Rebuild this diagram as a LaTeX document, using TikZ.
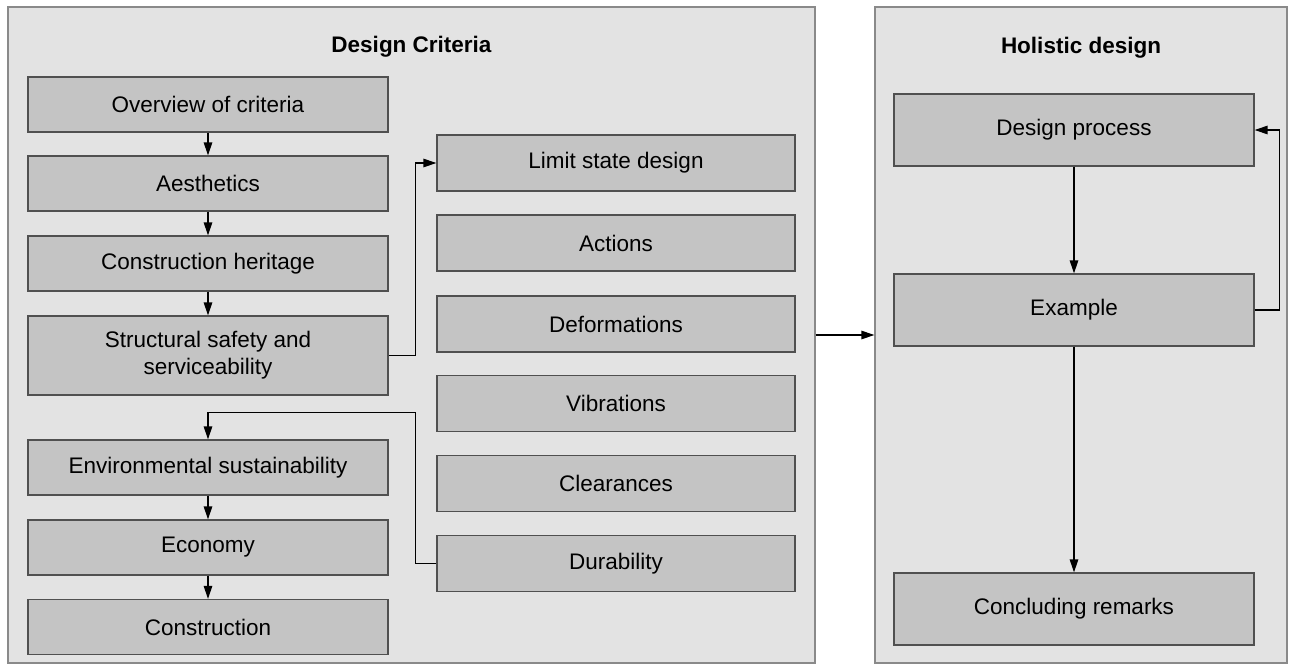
\documentclass[tikz,border=0pt]{standalone}
\usepackage{fontspec}
\setmainfont{Liberation Sans}
\usetikzlibrary{arrows.meta}
\definecolor{panelfill}{HTML}{E3E3E3}
\definecolor{panelline}{HTML}{8A8A8A}
\definecolor{boxfill}{HTML}{C4C4C4}
\definecolor{boxline}{HTML}{505050}
\begin{document}
\begin{tikzpicture}[x=1pt,y=-1pt,
  panel/.style={draw=panelline,fill=panelfill,line width=1.3pt,inner sep=0pt},
  topic/.style={draw=boxline,fill=boxfill,line width=1.3pt,inner sep=2pt,
    align=center,font=\fontsize{22.5}{27}\selectfont},
  leftbox/.style={topic,minimum width=360pt,minimum height=55pt},
  midbox/.style={topic,minimum width=358pt,minimum height=56pt},
  rightbox/.style={topic,minimum width=360pt,minimum height=72pt},
  heading/.style={font=\fontsize{22.5}{27}\selectfont\bfseries},
  arr/.style={draw=black,line width=1.4pt,-{Triangle[length=13pt,width=8.5pt]}}]
\useasboundingbox (0,0) rectangle (1292,665);

% panels
\node[panel,minimum width=807pt,minimum height=656pt] (critpanel) at (411.5,335) {};
\node[panel,minimum width=412pt,minimum height=656pt] (holpanel) at (1081,335) {};
\node[heading] (crittitle) at (411.5,47) {Design Criteria};
\node[heading] (holtitle) at (1081,48) {Holistic design};

% left column
\node[leftbox] (overview) at (208,104.5) {Overview of criteria};
\node[leftbox] (aesth) at (208,183.5) {Aesthetics};
\node[leftbox] (heritage) at (208,263.5) {Construction heritage};
\node[leftbox,minimum height=79pt] (struct) at (208,355.5) {Structural safety and\\serviceability};
\node[leftbox] (env) at (208,467.5) {Environmental sustainability};
\node[leftbox] (econ) at (208,547.5) {Economy};
\node[leftbox] (constr) at (208,627) {Construction};

% middle column
\node[midbox] (limit) at (616,163) {Limit state design};
\node[midbox] (actions) at (616,243) {Actions};
\node[midbox] (deform) at (616,324) {Deformations};
\node[midbox] (vibr) at (616,403.5) {Vibrations};
\node[midbox] (clear) at (616,483.5) {Clearances};
\node[midbox] (dur) at (616,563.5) {Durability};

% right column
\node[rightbox] (process) at (1074,130) {Design process};
\node[rightbox] (example) at (1074,310) {Example};
\node[rightbox] (remarks) at (1074,609) {Concluding remarks};

% connectors
\draw[arr] (overview) -- (aesth);
\draw[arr] (aesth) -- (heritage);
\draw[arr] (heritage) -- (struct);
\draw[arr] (env) -- (econ);
\draw[arr] (econ) -- (constr);
\draw[arr] (struct.east) -- ++(27,0) |- (limit.west);
\draw[arr] (dur.west) -- ++(-21,0) |- ([yshift=27pt]env.north) -- (env.north);
\draw[arr] (critpanel.east) -- (holpanel.west);
\draw[arr] (process) -- (example);
\draw[arr] (example) -- (remarks);
\draw[arr] (example.east) -- ++(25,0) |- (process.east);
\end{tikzpicture}
\end{document}
